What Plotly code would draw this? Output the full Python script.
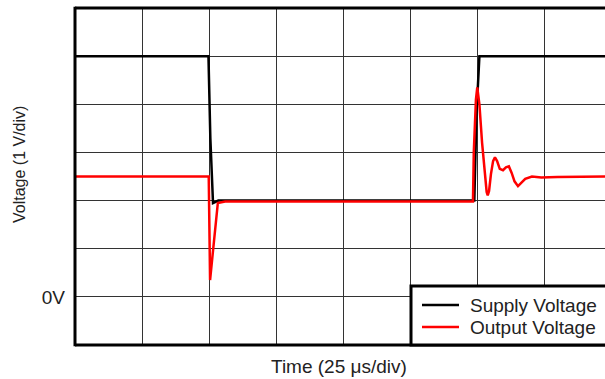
import plotly.graph_objects as go

# time in microseconds (25 us per division), voltage in volts (1 V per division)
supply_time = [0, 49.8, 50.5, 51.5, 53.5, 149.0, 149.8, 150.9, 198]
supply_volts = [5.0, 5.0, 3.3, 1.95, 2.0, 2.0, 3.8, 5.0, 5.0]

output_time = [0, 49.9, 50.4, 53.3, 56.0, 148.5, 148.8, 149.6, 150.1, 150.9, 151.9,
               152.9, 153.6, 154.0, 154.5, 155.2, 156.0, 156.7, 157.5, 158.5, 159.7,
               160.8, 161.9, 162.9, 164.0, 165.3, 166.5, 168.0, 170.5, 174.0, 180.0, 198]
output_volts = [2.5, 2.5, 0.35, 1.95, 1.98, 1.98, 3.0, 4.1, 4.35, 4.0, 3.2,
                2.5, 2.18, 2.11, 2.2, 2.55, 2.82, 2.9, 2.82, 2.66, 2.63,
                2.69, 2.71, 2.58, 2.4, 2.3, 2.36, 2.45, 2.5, 2.48, 2.49, 2.5]

y_ticks = [-1, 0, 1, 2, 3, 4, 5, 6]
y_labels = ["", "0V", "", "", "", "", "", ""]

series = [("Supply Voltage", supply_time, supply_volts, "black"),
          ("Output Voltage", output_time, output_volts, "#ff0000")]

FONT = "Liberation Sans, Arial, sans-serif"
TXT = "#222"

# plot area in pixels: x 75..605, y 8..345
def px_x(x):
    return (x - 75) / 530

def px_y(y):
    return (345 - y) / 337

fig = go.Figure()
for name, t, v, col in series:
    fig.add_trace(go.Scatter(x=t, y=v, mode="lines", name=name, showlegend=False,
                             hoverinfo="skip", line=dict(color=col, width=2.5)))

fig.update_layout(
    width=605, height=379,
    margin=dict(l=75, r=0, t=8, b=34),
    paper_bgcolor="white", plot_bgcolor="white",
    font=dict(family=FONT, size=19, color=TXT),
    xaxis=dict(range=[0, 530 / 67 * 25], dtick=25, tick0=0, showticklabels=False,
               ticks="", showgrid=True, gridcolor="#333", gridwidth=1,
               showline=False, zeroline=False, fixedrange=True),
    yaxis=dict(range=[-1, 6], tickvals=y_ticks, ticktext=y_labels, ticks="",
               ticklabelstandoff=9, showgrid=True, gridcolor="#333", gridwidth=1,
               showline=False, zeroline=False, fixedrange=True,
               tickfont=dict(size=19, color=TXT)),
)

# frame (left, top, bottom; right side runs off the picture)
frame = dict(type="line", xref="paper", yref="paper", layer="above",
             line=dict(color="black", width=3))
fig.add_shape(**frame, x0=0, x1=0, y0=-0.004, y1=1.004)
fig.add_shape(**frame, x0=0, x1=1.01, y0=1, y1=1)
fig.add_shape(**frame, x0=0, x1=1.01, y0=0, y1=0)

# legend box
fig.add_shape(type="rect", xref="paper", yref="paper", layer="above",
              x0=px_x(411), x1=1.1, y0=0, y1=px_y(286),
              fillcolor="white", line=dict(color="black", width=3))
for i, (name, t, v, col) in enumerate(series):
    ly = px_y(305 + 22 * i)
    fig.add_shape(type="line", xref="paper", yref="paper", layer="above",
                  x0=px_x(422), x1=px_x(459), y0=ly, y1=ly,
                  line=dict(color=col, width=2.5))
    fig.add_annotation(text=name, xref="paper", yref="paper", x=px_x(468), y=ly,
                       xanchor="left", yanchor="middle", showarrow=False,
                       font=dict(size=19, color=TXT))

fig.add_annotation(text="Time (25 \u03bcs/div)", xref="paper", yref="paper",
                   x=px_x(339), y=px_y(366), xanchor="center", yanchor="middle",
                   showarrow=False, font=dict(size=19, color=TXT))
fig.add_annotation(text="Voltage (1 V/div)", xref="paper", yref="paper",
                   x=px_x(19), y=px_y(165), xanchor="center", yanchor="middle",
                   textangle=-90, showarrow=False, font=dict(size=16, color=TXT))

fig.write_html("out.html", config={"displayModeBar": False},
               post_script="document.body.style.margin='0px';")
